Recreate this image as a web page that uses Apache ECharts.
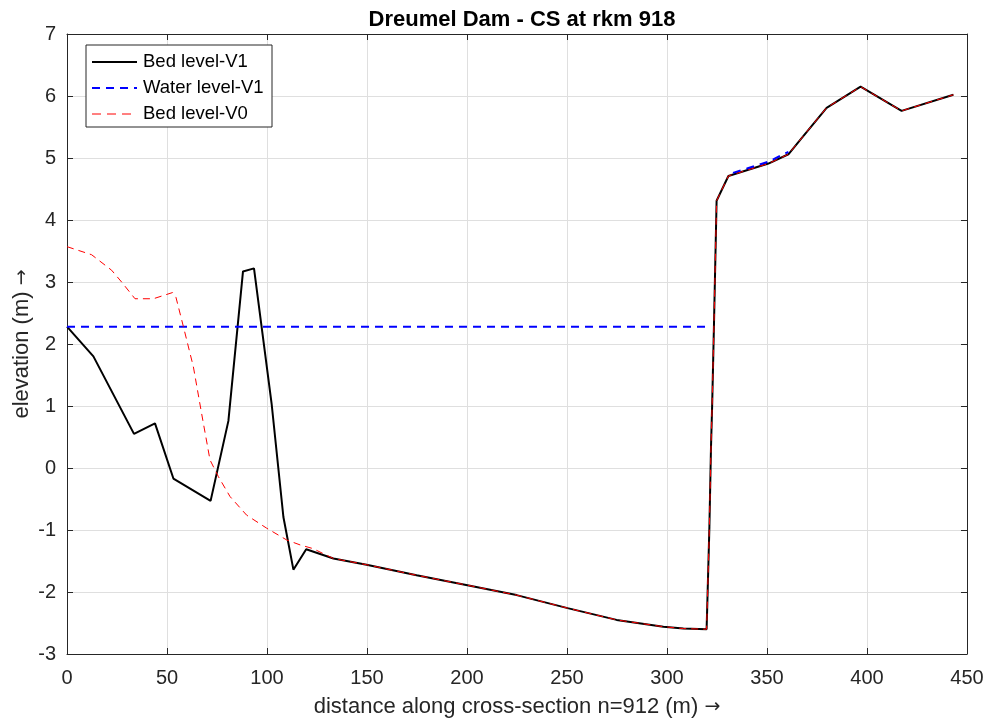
<!DOCTYPE html>
<html>
<head>
<meta charset="utf-8">
<script src="https://cdn.jsdelivr.net/npm/echarts@6/dist/echarts.min.js"></script>
<style>html,body{margin:0;padding:0;background:#fff}#c{width:991px;height:722px}</style>
</head>
<body>
<div id="c"></div>
<script>
// Bed level V1
const bedV1_x = [0, 13.2, 33.5, 44, 53.2, 71.8, 80.7, 88, 93.5, 102.3, 108.2, 113.2, 119.6, 133.2, 149.8, 174.8, 200.2, 224.8, 250.3, 274.8, 298.2, 308.2, 319.8, 320.1, 321.2, 322, 322.6, 323.5, 324.8, 330.7, 350.7, 360.7, 366.5, 379.8, 396.8, 417.3, 443.2];
const bedV1_y = [2.28, 1.80, 0.55, 0.72, -0.17, -0.53, 0.76, 3.17, 3.22, 1.04, -0.79, -1.64, -1.31, -1.46, -1.56, -1.73, -1.89, -2.05, -2.26, -2.45, -2.56, -2.59, -2.60, -2.26, -0.95, 0.34, 1.04, 2.33, 4.31, 4.71, 4.91, 5.06, 5.29, 5.81, 6.15, 5.76, 6.02];
// Water level V1 (null breaks the line)
const waterV1_x = [0, 320, 321, 333, 340, 350.7, 360.7];
const waterV1_y = [2.28, 2.28, null, 4.76, 4.83, 4.94, 5.10];
// Bed level V0
const bedV0_x = [0, 12.3, 22.3, 27.3, 34, 43.2, 52.8, 54.5, 58.2, 63.2, 67.3, 71.5, 75.7, 81.5, 89.8, 99.8, 109.8, 116.5, 123, 133.2, 149.8, 174.8, 200.2, 224.8, 250.3, 274.8, 298.2, 308.2, 319.8, 320.1, 321.2, 322, 322.6, 323.5, 324.8, 330.7, 350.7, 360.7, 366.5, 379.8, 396.8, 417.3, 443.2];
const bedV0_y = [3.57, 3.44, 3.19, 3.0, 2.73, 2.73, 2.83, 2.75, 2.28, 1.63, 0.88, 0.13, -0.14, -0.46, -0.76, -0.97, -1.16, -1.24, -1.30, -1.46, -1.56, -1.73, -1.89, -2.05, -2.26, -2.45, -2.56, -2.59, -2.60, -2.26, -0.95, 0.34, 1.04, 2.33, 4.31, 4.71, 4.91, 5.06, 5.29, 5.81, 6.15, 5.76, 6.02];

const xTicks = [0, 50, 100, 150, 200, 250, 300, 350, 400, 450];
const yTicks = [-3, -2, -1, 0, 1, 2, 3, 4, 5, 6, 7];
const legendNames = ['Bed level-V1', 'Water level-V1', 'Bed level-V0'];

const zip = (xs, ys) => xs.map((x, i) => [x, ys[i]]);
const FONT = 'Liberation Sans, Arial, Helvetica, sans-serif';
const TXT = '#262626';

const lineStyles = [
  {stroke: '#000000', lineWidth: 2, lineDash: null},
  {stroke: '#0000ff', lineWidth: 2, lineDash: [8, 6]},
  {stroke: '#ff0000', lineWidth: 1, lineDash: [9, 6]}
];

const chart = echarts.init(document.getElementById('c'), null, {renderer: 'canvas'});
const baseX = {
  type: 'value', min: xTicks[0], max: xTicks[xTicks.length - 1], interval: 50,
  axisLine: {show: true, onZero: false, lineStyle: {color: TXT, width: 1}},
  axisTick: {show: true, inside: true, length: 6, lineStyle: {color: TXT}},
};
const baseY = {
  type: 'value', min: yTicks[0], max: yTicks[yTicks.length - 1], interval: 1,
  axisLine: {show: true, onZero: false, lineStyle: {color: TXT, width: 1}},
  axisTick: {show: true, inside: true, length: 6, lineStyle: {color: TXT}},
};

// legend drawn as graphics
const LX = 86, LY = 45, LW = 186, LH = 82, rowGap = 26, row0 = 62;
const legendChildren = [{
  type: 'rect', z: 100, shape: {x: LX, y: LY, width: LW, height: LH},
  style: {fill: '#ffffff', stroke: '#262626', lineWidth: 1}
}];
legendNames.forEach((n, i) => {
  const y = row0 + i * rowGap;
  legendChildren.push({
    type: 'line', z: 101, shape: {x1: 92, y1: y, x2: 137, y2: y},
    style: Object.assign({fill: null}, lineStyles[i])
  });
  legendChildren.push({
    type: 'text', z: 101, x: 143, y: y,
    style: {text: n, font: '18.5px ' + FONT, fill: '#000', verticalAlign: 'middle'}
  });
});

const arrowRich = {
  a: {fontFamily: FONT, fontSize: 22, color: TXT},
  b: {fontFamily: 'DejaVu Sans', fontSize: 19, color: TXT}
};

chart.setOption({
  animation: false,
  backgroundColor: '#fff',
  title: {
    text: 'Dreumel Dam - CS at rkm 918', left: 517, top: 4, textAlign: 'center',
    textStyle: {fontFamily: FONT, fontWeight: 'bold', fontSize: 22, color: '#000'}
  },
  grid: {left: 67, right: 24, top: 34, bottom: 68, containLabel: false, outerBoundsMode: 'none'},
  xAxis: [
    Object.assign({}, baseX, {
      position: 'bottom',
      name: '{a|distance along cross-section n=912 (m) }{b|\u2192}', nameLocation: 'middle', nameGap: 42,
      nameMoveOverlap: false,
      nameTextStyle: {fontFamily: FONT, fontSize: 22, color: TXT, rich: arrowRich},
      axisLabel: {fontFamily: FONT, fontSize: 20, color: TXT, margin: 14},
      splitLine: {show: true, lineStyle: {color: '#dfdfdf', width: 1}}
    }),
    Object.assign({}, baseX, {
      position: 'top', axisLabel: {show: false}, splitLine: {show: false}
    })
  ],
  yAxis: [
    Object.assign({}, baseY, {
      position: 'left',
      name: '{a|elevation (m) }{b|\u2192}', nameLocation: 'middle', nameGap: 34, nameRotate: 90,
      nameMoveOverlap: false,
      nameTextStyle: {fontFamily: FONT, fontSize: 22, color: TXT, rich: arrowRich},
      axisLabel: {fontFamily: FONT, fontSize: 20, color: TXT, margin: 11},
      splitLine: {show: true, lineStyle: {color: '#dfdfdf', width: 1}}
    }),
    Object.assign({}, baseY, {
      position: 'right', axisLabel: {show: false}, splitLine: {show: false}
    })
  ],
  graphic: [{type: 'group', z: 100, children: legendChildren}],
  series: [
    {
      name: legendNames[0], type: 'line', data: zip(bedV1_x, bedV1_y),
      showSymbol: false, symbol: 'none',
      lineStyle: {color: '#000', width: 2}, itemStyle: {color: '#000'}
    },
    {
      name: legendNames[1], type: 'line', data: zip(waterV1_x, waterV1_y),
      showSymbol: false, symbol: 'none', connectNulls: false,
      lineStyle: {color: '#0000ff', width: 2, type: [8, 6]}, itemStyle: {color: '#0000ff'}
    },
    {
      name: legendNames[2], type: 'line', data: zip(bedV0_x, bedV0_y),
      showSymbol: false, symbol: 'none',
      lineStyle: {color: '#ff0000', width: 1, type: [7, 5]}, itemStyle: {color: '#ff0000'}
    }
  ]
});
</script>
</body>
</html>
